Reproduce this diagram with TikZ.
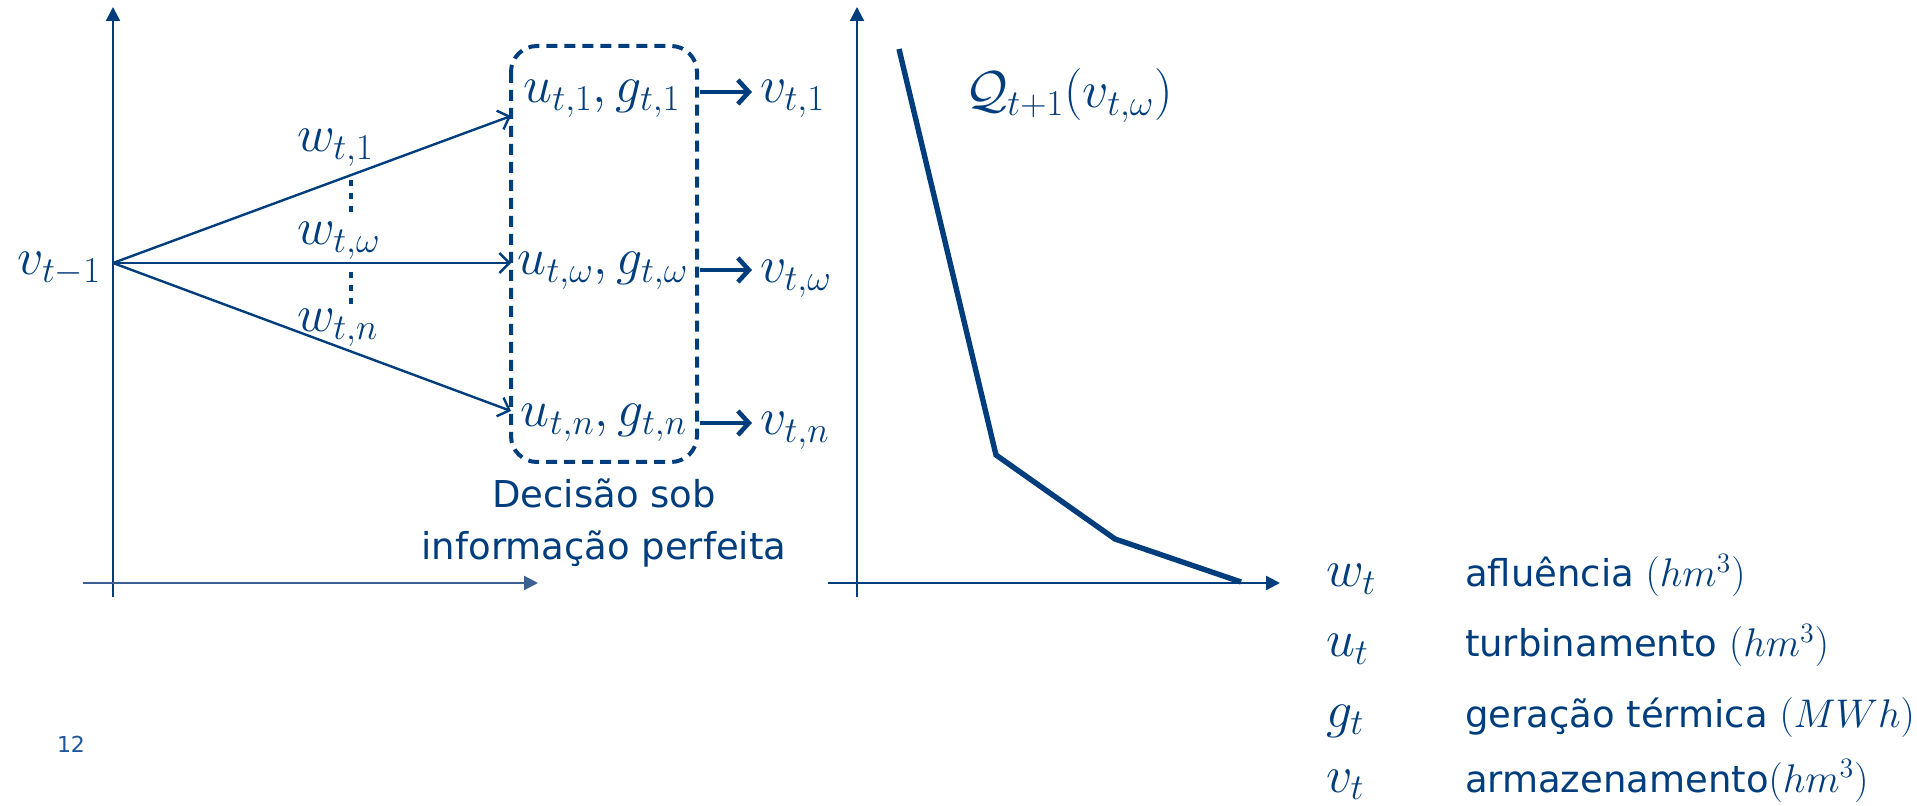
\RequirePackage{fix-cm}
\documentclass[tikz,border=0pt]{standalone}
\usepackage{fontspec}
\newfontfamily\tfont{DejaVu Sans}
\usetikzlibrary{arrows.meta}
\definecolor{navy}{RGB}{0,61,125}
\definecolor{lightaxis}{RGB}{58,96,150}
\definecolor{pagenum}{RGB}{30,85,155}
\newcommand{\lgm}[1]{{\fontsize{20}{26}\selectfont$#1$}}
\begin{document}
\begin{tikzpicture}[x=0.5pt,y=-0.5pt,
  every node/.style={inner sep=0pt, outer sep=0pt, text=navy},
  mlabel/.style={font=\fontsize{26}{30}\selectfont},
  slabel/.style={font=\tfont\fontsize{18.5}{26}\selectfont},
  axisline/.style={draw=navy, line width=1.1pt, -{Triangle[length=7pt,width=7pt]}},
  thinarr/.style={draw=navy, line width=1.2pt, -{Straight Barb[length=5pt,width=10pt]}},
  thickarr/.style={draw=navy, line width=2.3pt, -{Straight Barb[length=5.5pt,width=12pt]}},
  dotline/.style={draw=navy, line width=2pt, dash pattern=on 3pt off 3.5pt},
  dbox/.style={draw=navy, line width=2pt, dash pattern=on 5.5pt off 3.5pt, rounded corners=13pt},
  curveline/.style={draw=navy, line width=2.7pt}
]
\useasboundingbox (0,0) rectangle (1917,806);

% left axes
\coordinate (Ly0) at (113,597); \coordinate (Ly1) at (113,7);
\draw[axisline] (Ly0) -- (Ly1);
\coordinate (Lx0) at (83,583); \coordinate (Lx1) at (538,583);
\draw[axisline, draw=lightaxis] (Lx0) -- (Lx1);

% origin and branches
\coordinate (O) at (113,263);
\node[mlabel, anchor=base east] (vtm) at (101,275) {$v_{t-1}$};
\coordinate (t1) at (511,116);
\coordinate (t2) at (511,263);
\coordinate (t3) at (511,411);
\draw[thinarr] (O) -- (t1);
\draw[thinarr] (O) -- (t2);
\draw[thinarr] (O) -- (t3);

\node[mlabel, anchor=base west] (w1) at (297,152) {$w_{t,1}$};
\node[mlabel, anchor=base west] (ww) at (297,245) {$w_{t,\omega}$};
\node[mlabel, anchor=base west] (wn) at (297,332) {$w_{t,n}$};
\draw[dotline] (351,180) -- (351,213);
\draw[dotline] (351,272) -- (351,305);

% decision box
\draw[dbox] (511,46) rectangle (697,462);
\node[mlabel, anchor=base] (u1) at (602,103) {$u_{t,1}, g_{t,1}$};
\node[mlabel, anchor=base] (uw) at (603,275) {$u_{t,\omega}, g_{t,\omega}$};
\node[mlabel, anchor=base] (un) at (604,427) {$u_{t,n}, g_{t,n}$};

\coordinate (a1) at (700,92);  \coordinate (b1) at (752,92);
\coordinate (a2) at (700,270); \coordinate (b2) at (752,270);
\coordinate (a3) at (700,423); \coordinate (b3) at (752,423);
\draw[thickarr] (a1) -- (b1);
\draw[thickarr] (a2) -- (b2);
\draw[thickarr] (a3) -- (b3);

\node[mlabel, anchor=base west] (v1) at (760,103) {$v_{t,1}$};
\node[mlabel, anchor=base west] (vw) at (760,283) {$v_{t,\omega}$};
\node[mlabel, anchor=base west] (vn) at (760,435) {$v_{t,n}$};

\node[slabel, anchor=base] (dec1) at (604,508) {Decisão sob};
\node[slabel, anchor=base] (dec2) at (604,560) {informação perfeita};

% right chart
\coordinate (Ry0) at (857,597); \coordinate (Ry1) at (857,7);
\draw[axisline] (Ry0) -- (Ry1);
\coordinate (Rx0) at (828,583); \coordinate (Rx1) at (1280,583);
\draw[axisline] (Rx0) -- (Rx1);
\draw[curveline] (899,49) -- (996,455) -- (1115,539) -- (1241,582);
\node[mlabel, anchor=base west] (Q) at (965,108) {$\mathcal{Q}_{t+1}(v_{t,\omega})$};

% legend
\node[mlabel, anchor=base west] (lw) at (1326,587) {$w_t$};
\node[mlabel, anchor=base west] (lu) at (1326,657) {$u_t$};
\node[mlabel, anchor=base west] (lg) at (1326,727) {$g_t$};
\node[mlabel, anchor=base west] (lv) at (1326,792) {$v_t$};
\node[slabel, anchor=base west] (tw) at (1465,587) {afluência \lgm{(hm^3)}};
\node[slabel, anchor=base west] (tu) at (1465,657) {turbinamento \lgm{(hm^3)}};
\node[slabel, anchor=base west] (tg) at (1465,727) {geração térmica \lgm{(MWh)}};
\node[slabel, anchor=base west] (tv) at (1465,792) {armazenamento\lgm{(hm^3)}};

\node[font=\tfont\fontsize{11}{13}\selectfont, text=pagenum, anchor=base west] (pg) at (57,752) {12};
\end{tikzpicture}
\end{document}
